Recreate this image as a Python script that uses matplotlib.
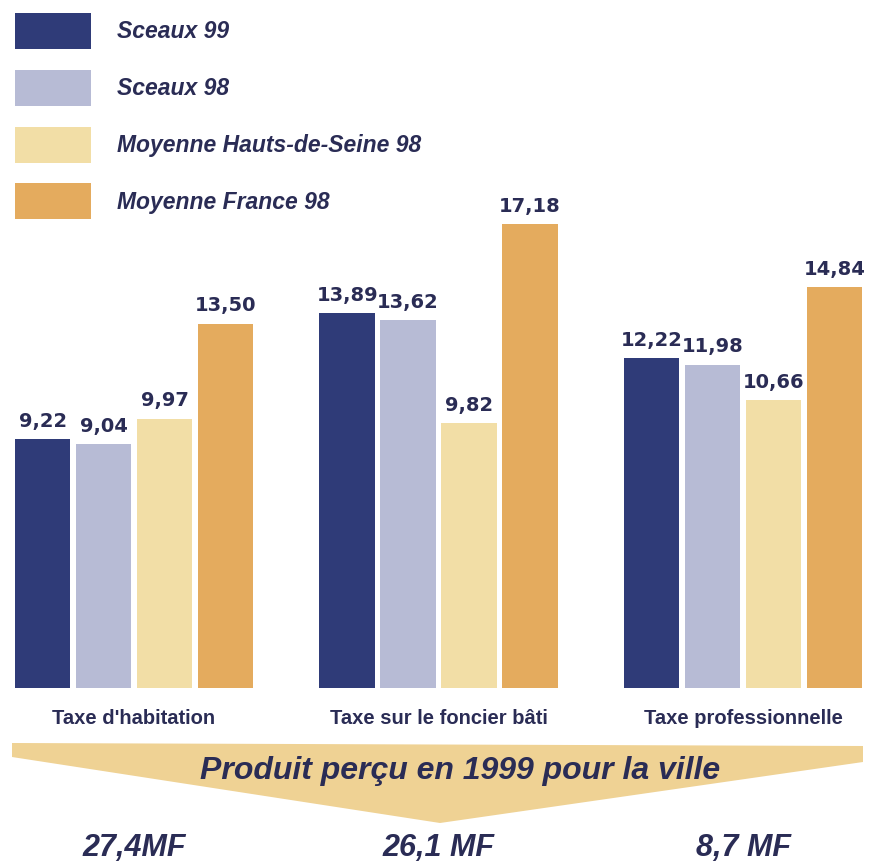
import matplotlib.pyplot as plt
import matplotlib.transforms as mtransforms
from matplotlib.patches import Polygon
import numpy as np

# data
categories = ["Taxe d'habitation", "Taxe sur le foncier bâti", "Taxe professionnelle"]
series = ["Sceaux 99", "Sceaux 98", "Moyenne Hauts-de-Seine 98", "Moyenne France 98"]
sceaux_99 = [9.22, 13.89, 12.22]
sceaux_98 = [9.04, 13.62, 11.98]
moy_hds_98 = [9.97, 9.82, 10.66]
moy_france_98 = [13.50, 17.18, 14.84]
produit = ["27,4MF", "26,1 MF", "8,7 MF"]
banner_text = "Produit perçu en 1999 pour la ville"

colors = ["#2f3b78", "#b7bbd5", "#f2dea6", "#e4ab5e"]
navy = "#2a2c55"
W, H = 871, 865

fig = plt.figure(figsize=(W / 100, H / 100), dpi=100)
fig.patch.set_facecolor("white")

# axes placed so that baseline sits at y=688px and groups are 304.5px apart
base_px = 688
ax = fig.add_axes([0, (H - base_px) / H, 1, base_px / H])
x = np.arange(len(categories))
ax.set_xlim(-134 / 304.5, (W - 134) / 304.5)
ax.set_ylim(0, base_px / 27.0)

values = [sceaux_99, sceaux_98, moy_hds_98, moy_france_98]
handles = []
for j, (vals, col, name) in enumerate(zip(values, colors, series)):
    bars = ax.bar(x + (j - 1.5) * 0.2, vals, width=0.182, color=col, label=name)
    handles.append(bars)
    for b, v in zip(bars, vals):
        ax.annotate(f"{v:.2f}".replace(".", ","),
                    (b.get_x() + b.get_width() / 2, v),
                    xytext=(0, 6), textcoords="offset points",
                    ha="center", va="bottom", fontsize=14, fontweight="bold",
                    color=navy, family="DejaVu Sans")

ax.set_xticks(x)
ax.set_xticklabels(categories, fontsize=14.5, fontweight="bold", color=navy,
                   family="Liberation Sans")
ax.tick_params(axis="x", length=0, pad=15)
ax.set_yticks([])
for s in ax.spines.values():
    s.set_visible(False)
ax.patch.set_visible(False)

leg = fig.legend(handles=handles, labels=series, loc="upper left",
                 bbox_to_anchor=(15 / W, 1 - 13 / H), bbox_transform=fig.transFigure,
                 frameon=False, borderpad=0, borderaxespad=0,
                 handlelength=3.3, handleheight=2.05, handletextpad=1.15,
                 labelspacing=0.9,
                 prop={"family": "Liberation Sans", "weight": "bold",
                       "style": "italic", "size": 16.5})
for t in leg.get_texts():
    t.set_color(navy)

# banner chevron
pts = [(12, 743), (863, 746), (863, 762), (440, 823), (12, 757)]
poly = Polygon([(px / W, 1 - py / H) for px, py in pts], closed=True,
               transform=fig.transFigure, facecolor="#efd294", edgecolor="none",
               zorder=0)
fig.add_artist(poly)
fig.text(460 / W, 1 - 771 / H, banner_text, ha="center", va="center",
         fontsize=23, fontweight="bold", style="italic", color=navy,
         family="Liberation Sans")

trans = mtransforms.blended_transform_factory(ax.transData, fig.transFigure)
for xi, txt in zip(x, produit):
    ax.text(xi, 1 - 848 / H, txt, transform=trans, ha="center", va="center",
            fontsize=22, fontweight="bold", style="italic", color=navy,
            family="Liberation Sans", clip_on=False)

fig.savefig("out.png", dpi=100, facecolor="white")
